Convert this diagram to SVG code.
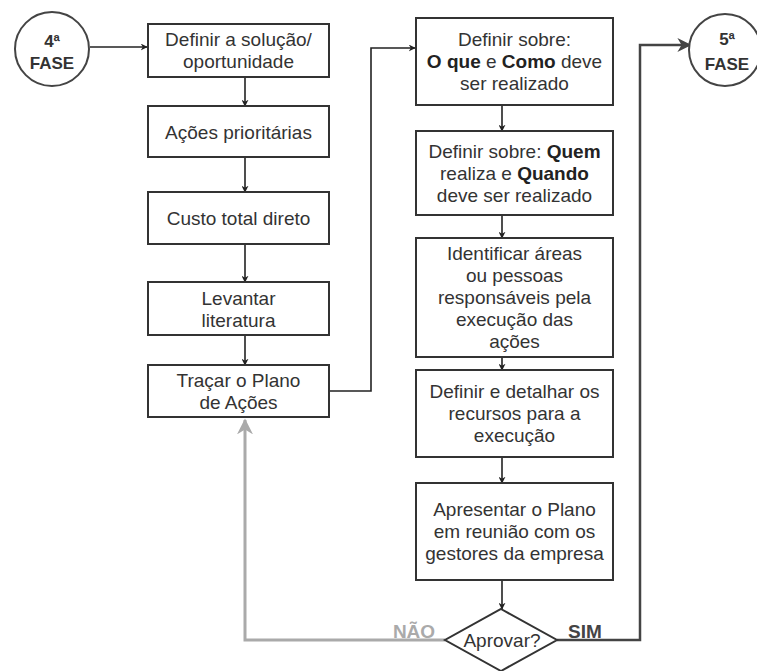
<svg xmlns="http://www.w3.org/2000/svg" width="757" height="671" viewBox="0 0 757 671">
  <defs>
    <marker id="arr" viewBox="0 0 10 10" refX="9" refY="5" markerWidth="7" markerHeight="7" markerUnits="userSpaceOnUse" orient="auto">
      <path d="M0,0 L10,5 L0,10 L3,5 z" fill="#222"/>
    </marker>
    <marker id="arrBig" viewBox="0 0 10 10" refX="9" refY="5" markerWidth="14" markerHeight="14" markerUnits="userSpaceOnUse" orient="auto">
      <path d="M0,0 L10,5 L0,10 L3,5 z" fill="#444"/>
    </marker>
    <marker id="arrGray" viewBox="0 0 10 10" refX="9" refY="5" markerWidth="16" markerHeight="16" markerUnits="userSpaceOnUse" orient="auto">
      <path d="M0,0 L10,5 L0,10 L3,5 z" fill="#aaa"/>
    </marker>
    <style>
      .box { fill: #fff; stroke: #333; stroke-width: 2; }
      .phase { fill: #fff; stroke: #444; stroke-width: 2; }
      .t { font-family: "Liberation Sans", Arial, sans-serif; font-size: 19px; fill: #333; text-anchor: middle; }
      .b { font-weight: bold; fill: #222; }
      .ph { font-family: "Liberation Sans", Arial, sans-serif; font-size: 17px; font-weight: bold; fill: #333; text-anchor: middle; }
      .lbl { font-family: "Liberation Sans", Arial, sans-serif; font-size: 19px; font-weight: bold; }
      .c { fill: none; stroke: #222; stroke-width: 1.6; }
      .yes { fill: none; stroke: #444; stroke-width: 2.5; }
      .no { fill: none; stroke: #aaa; stroke-width: 3; }
    </style>
  </defs>

  <!-- connectors -->
  <g id="connectors">
    <line class="c" x1="90" y1="47" x2="147" y2="47" marker-end="url(#arr)"/>
    <line class="c" x1="245" y1="77" x2="245" y2="106" marker-end="url(#arr)"/>
    <line class="c" x1="245" y1="157" x2="245" y2="192" marker-end="url(#arr)"/>
    <line class="c" x1="245" y1="244" x2="245" y2="282" marker-end="url(#arr)"/>
    <line class="c" x1="245" y1="335" x2="245" y2="365" marker-end="url(#arr)"/>
    <path class="c" d="M324,391 H371 V48 H415" stroke="#444" stroke-width="2" marker-end="url(#arr)"/>
    <line class="c" x1="502" y1="105" x2="502" y2="131" marker-end="url(#arr)"/>
    <line class="c" x1="502" y1="215" x2="502" y2="238" marker-end="url(#arr)"/>
    <line class="c" x1="502" y1="357" x2="502" y2="370" marker-end="url(#arr)"/>
    <line class="c" x1="502" y1="457" x2="502" y2="483" marker-end="url(#arr)"/>
    <line class="c" x1="502" y1="580" x2="502" y2="609" marker-end="url(#arr)"/>
    <path class="yes" d="M557,640 H640 V45 H690" marker-end="url(#arrBig)"/>
    <path class="no" d="M445,640 H245 V420" marker-end="url(#arrGray)"/>
    <text class="lbl" x="414" y="638" text-anchor="middle" fill="#aaa">NÃO</text>
    <text class="lbl" x="585" y="638" text-anchor="middle" fill="#444">SIM</text>
  </g>

  <!-- start phase -->
  <g id="fase4">
    <circle class="phase" cx="52" cy="49" r="37"/>
    <text class="ph" x="52" y="47">4ª</text>
    <text class="ph" x="52" y="69">FASE</text>
  </g>

  <!-- left column -->
  <g id="definir-solucao">
    <rect class="box" x="148" y="24" width="181" height="53"/>
    <text class="t" x="238.5" y="46">Definir a solução/</text>
    <text class="t" x="238.5" y="68">oportunidade</text>
  </g>
  <g id="acoes-prioritarias">
    <rect class="box" x="148" y="106" width="181" height="51"/>
    <text class="t" x="238.5" y="138.5">Ações prioritárias</text>
  </g>
  <g id="custo-total">
    <rect class="box" x="148" y="192" width="181" height="52"/>
    <text class="t" x="238.5" y="225">Custo total direto</text>
  </g>
  <g id="levantar-literatura">
    <rect class="box" x="148" y="282" width="181" height="53"/>
    <text class="t" x="238.5" y="304.5">Levantar</text>
    <text class="t" x="238.5" y="326.5">literatura</text>
  </g>
  <g id="tracar-plano">
    <rect class="box" x="148" y="365" width="181" height="52"/>
    <text class="t" x="238.5" y="387">Traçar o Plano</text>
    <text class="t" x="238.5" y="409">de Ações</text>
  </g>

  <!-- right column -->
  <g id="definir-o-que-como">
    <rect class="box" x="416" y="18" width="197" height="87"/>
    <text class="t" x="514.5" y="46">Definir sobre:</text>
    <text class="t" x="514.5" y="68"><tspan class="b">O que</tspan> e <tspan class="b">Como</tspan> deve</text>
    <text class="t" x="514.5" y="90">ser realizado</text>
  </g>
  <g id="definir-quem-quando">
    <rect class="box" x="416" y="131" width="197" height="84"/>
    <text class="t" x="514.5" y="158">Definir sobre: <tspan class="b">Quem</tspan></text>
    <text class="t" x="514.5" y="180">realiza e <tspan class="b">Quando</tspan></text>
    <text class="t" x="514.5" y="202">deve ser realizado</text>
  </g>
  <g id="identificar-responsaveis">
    <rect class="box" x="416" y="238" width="197" height="119"/>
    <text class="t" x="514.5" y="260">Identificar áreas</text>
    <text class="t" x="514.5" y="282">ou pessoas</text>
    <text class="t" x="514.5" y="304">responsáveis pela</text>
    <text class="t" x="514.5" y="326">execução das</text>
    <text class="t" x="514.5" y="348">ações</text>
  </g>
  <g id="detalhar-recursos">
    <rect class="box" x="416" y="370" width="197" height="87"/>
    <text class="t" x="514.5" y="398">Definir e detalhar os</text>
    <text class="t" x="514.5" y="420">recursos para a</text>
    <text class="t" x="514.5" y="442">execução</text>
  </g>
  <g id="apresentar-plano">
    <rect class="box" x="416" y="483" width="197" height="97"/>
    <text class="t" x="514.5" y="516">Apresentar o Plano</text>
    <text class="t" x="514.5" y="538">em reunião com os</text>
    <text class="t" x="514.5" y="560">gestores da empresa</text>
  </g>

  <!-- decision -->
  <g id="aprovar">
    <polygon class="box" points="501,609 557,640 501,671 445,640"/>
    <text class="t" x="502" y="647">Aprovar?</text>
  </g>

  <!-- end phase -->
  <g id="fase5">
    <circle class="phase" cx="725" cy="50" r="36"/>
    <text class="ph" x="727" y="45">5ª</text>
    <text class="ph" x="727" y="70">FASE</text>
  </g>
</svg>
